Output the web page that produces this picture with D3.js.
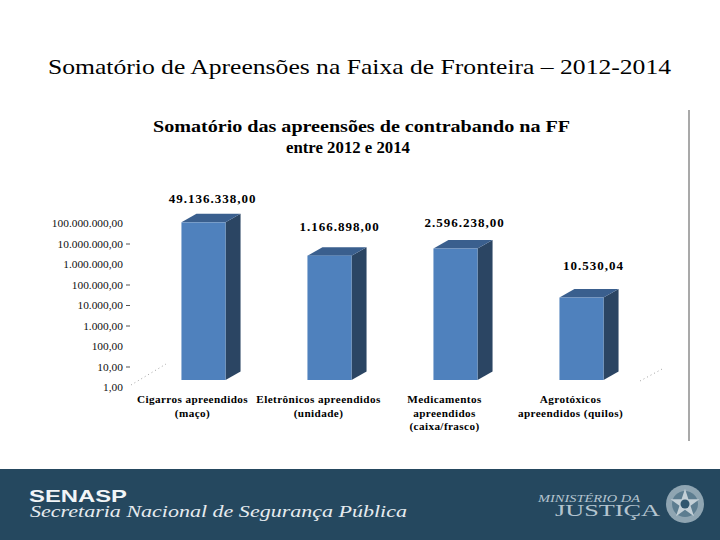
<!DOCTYPE html>
<html>
<head>
<meta charset="utf-8">
<style>
  html, body { margin: 0; padding: 0; background: #fff; }
  svg { display: block; }
  text { font-family: "Liberation Serif", serif; fill: #000; }
</style>
<script src="https://cdnjs.cloudflare.com/ajax/libs/d3/7.8.5/d3.min.js"></script>
</head>
<body>
<svg id="slide" width="720" height="540"></svg>
<script>
var categories = ["Cigarros", "Eletronicos", "Medicamentos", "Agrotoxicos"];
var categoryLines = [
    ["Cigarros apreendidos", "(maço)"],
    ["Eletrônicos apreendidos", "(unidade)"],
    ["Medicamentos", "apreendidos", "(caixa/frasco)"],
    ["Agrotóxicos", "apreendidos (quilos)"]
];
var seizures = [49136338, 1166898, 2596238, 10530.04];
var tickValues = [1, 10, 100, 1000, 10000, 100000, 1000000, 10000000, 100000000];
var tickedValues = [10, 1000, 10000, 100000, 10000000];

var svg = d3.select("#slide");

// 3D look of the bars, and where the labels sit
var depthX = 15, depthY = 8.5, labelShift = 7;
var valueNudge = [[9, -11], [10, -16], [9, -13], [12, -19]];

var brFormat = d3.formatLocale({
    decimal: ",", thousands: ".", grouping: [3], currency: ["R$", ""]
}).format(",.2f");

var x = d3.scaleBand().domain(categories).range([140.5, 644.5]).paddingInner(0.65).paddingOuter(0.325);
var y = d3.scaleLog().domain([1, 100000000]).range([380, 216]);

// text stretched to the width it has in the reference
function fitted(px, py, width, size, str) {
    return svg.append("text")
        .attr("x", px).attr("y", py)
        .attr("textLength", width)
        .attr("lengthAdjust", "spacingAndGlyphs")
        .style("font-size", size + "px")
        .text(str);
}

// slide title
fitted(48, 74, 623, 21.5, "Somatório de Apreensões  na Faixa de Fronteira – 2012-2014");

// chart title
fitted(153, 132, 417, 16, "Somatório das apreensões de contrabando na FF").style("font-weight", "bold");
fitted(286, 153, 124, 16, "entre 2012 e 2014").style("font-weight", "bold");

// right border of the chart object
svg.append("line")
    .attr("x1", 689).attr("x2", 689).attr("y1", 110).attr("y2", 441)
    .attr("stroke", "#8c8c8c").attr("stroke-width", 1.5);

// floor edges, mostly lost in the original
svg.append("line")
    .attr("x1", 131).attr("y1", 385).attr("x2", 166).attr("y2", 364)
    .attr("stroke", "#8a8a8a").attr("stroke-width", 0.8).attr("stroke-dasharray", "1 3");
svg.append("line")
    .attr("x1", 640).attr("y1", 381).attr("x2", 664).attr("y2", 368)
    .attr("stroke", "#8a8a8a").attr("stroke-width", 0.8).attr("stroke-dasharray", "1 3");

// y axis
var yAxis = d3.axisLeft(y)
    .tickValues(tickValues)
    .tickFormat(brFormat)
    .tickSize(4)
    .tickPadding(3);

var gy = svg.append("g")
    .attr("transform", "translate(130," + labelShift + ")")
    .call(yAxis);
gy.select(".domain").remove();
gy.selectAll(".tick text")
    .style("font-family", '"Liberation Serif", serif')
    .style("font-size", "11.4px")
    .style("fill", "#111");
gy.selectAll(".tick line")
    .attr("stroke", "#555")
    .attr("opacity", function(d) { return tickedValues.indexOf(d) < 0 ? 0 : 1; });

// bars
var bars = svg.selectAll("g.bar")
    .data(seizures)
    .enter().append("g")
    .attr("class", "bar");

bars.append("path")
    .attr("fill", "#2b4563")
    .attr("d", function(d, i) {
        var x1 = x(categories[i]) + x.bandwidth();
        return "M" + x1 + "," + y(1)
            + "L" + (x1 + depthX) + "," + (y(1) - depthY)
            + "L" + (x1 + depthX) + "," + (y(d) - depthY)
            + "L" + x1 + "," + y(d) + "Z";
    });

bars.append("path")
    .attr("fill", "#3a5f8e")
    .attr("d", function(d, i) {
        var x0 = x(categories[i]), x1 = x0 + x.bandwidth();
        return "M" + x0 + "," + y(d)
            + "L" + (x0 + depthX) + "," + (y(d) - depthY)
            + "L" + (x1 + depthX) + "," + (y(d) - depthY)
            + "L" + x1 + "," + y(d) + "Z";
    });

bars.append("rect")
    .attr("fill", "#4f81bd")
    .attr("x", function(d, i) { return x(categories[i]); })
    .attr("y", function(d) { return y(d); })
    .attr("width", x.bandwidth())
    .attr("height", function(d) { return y(1) - y(d); });

// value labels
bars.append("text")
    .attr("text-anchor", "middle")
    .attr("x", function(d, i) { return x(categories[i]) + x.bandwidth() / 2 + valueNudge[i][0]; })
    .attr("y", function(d, i) { return y(d) - depthY + valueNudge[i][1]; })
    .style("font-size", "13px").style("font-weight", "bold").style("letter-spacing", "1px")
    .text(brFormat);

// category labels
svg.selectAll("text.cat")
    .data(categoryLines)
    .enter().append("text")
    .attr("class", "cat")
    .attr("text-anchor", "middle")
    .attr("y", 403)
    .style("font-size", "11.2px").style("font-weight", "bold").style("letter-spacing", "0.4px")
    .each(function(lines, i) {
        d3.select(this).selectAll("tspan")
            .data(lines)
            .enter().append("tspan")
            .attr("x", x(categories[i]) + x.bandwidth() / 2 - 11)
            .attr("dy", function(d, j) { return j ? 13.5 : 0; })
            .text(function(d) { return d; });
    });

// footer band
svg.append("rect")
    .attr("x", 0).attr("y", 469).attr("width", 720).attr("height", 71)
    .attr("fill", "#25485f");

fitted(29, 502, 98, 16.5, "SENASP")
    .style("font-family", '"Liberation Sans", sans-serif')
    .style("font-weight", "bold").style("fill", "#f2f5f7");
fitted(30, 517, 377, 17.5, "Secretaria Nacional de Segurança Pública")
    .style("font-style", "italic").style("fill", "#e6ebef");
fitted(538, 502, 102, 10, "MINISTÉRIO DA")
    .style("font-style", "italic").style("fill", "#b4c4cf");
fitted(555, 516, 105, 17, "JUSTIÇA")
    .style("fill", "#b4c4cf");

// seal
var seal = svg.append("g").attr("transform", "translate(685,504)");
seal.append("circle").attr("r", 19).attr("fill", "#8fa5b2");
seal.append("circle").attr("r", 13).attr("fill", "#5d7d90");
seal.append("path")
    .attr("d", d3.symbol().type(d3.symbolStar).size(260)())
    .attr("fill", "#c4d0d7");
seal.append("circle").attr("r", 4.5).attr("fill", "#31566e");
</script>
</body>
</html>
